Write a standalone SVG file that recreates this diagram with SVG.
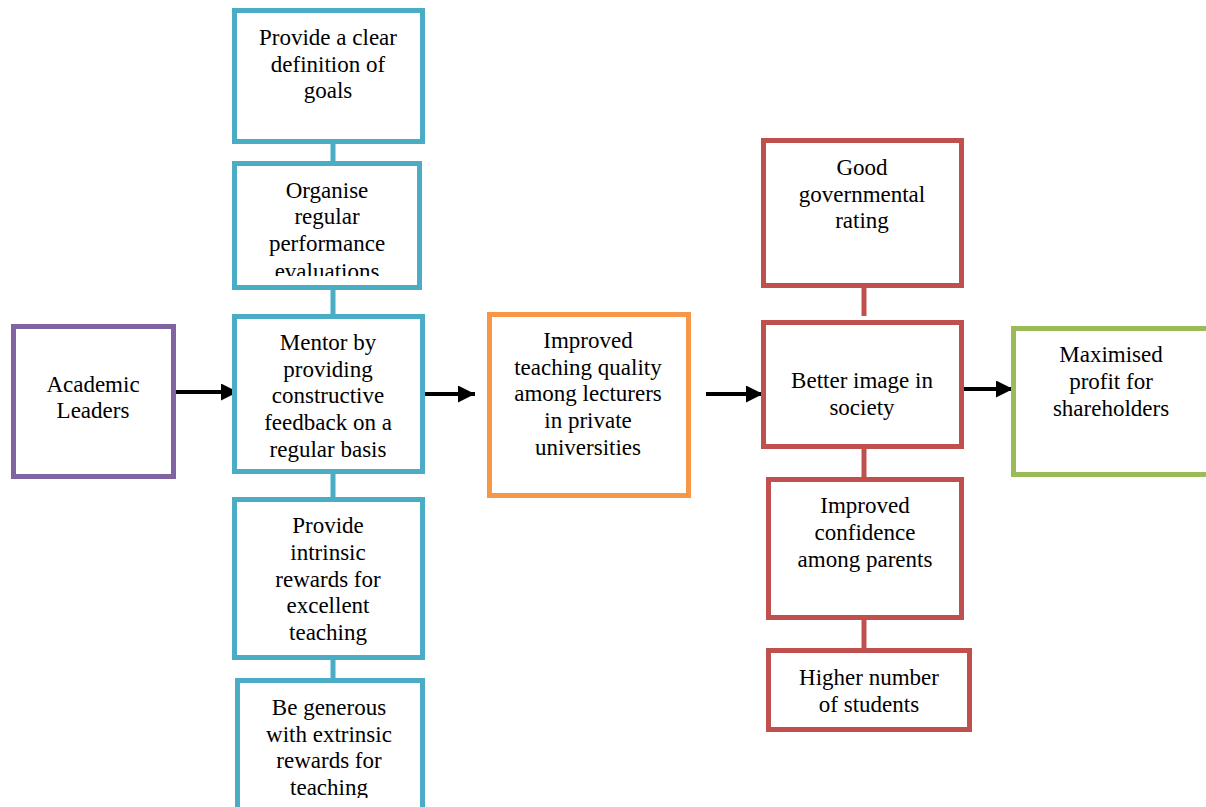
<svg xmlns="http://www.w3.org/2000/svg" width="1206" height="807" viewBox="0 0 1206 807">
<style>
.box{fill:#fff;stroke-width:5}
.pu{stroke:#8064A2}.bl{stroke:#4BACC6}.or{stroke:#F79646}.rd{stroke:#C0504D}.gr{stroke:#9BBB59}
text{font-family:"Liberation Serif","Times New Roman",serif;font-size:23px;fill:#000;text-anchor:middle}
.arrow{stroke:#000;stroke-width:4;fill:none;marker-end:url(#ah)}
.lk{stroke-width:5;fill:none}
</style>
<defs>
<marker id="ah" markerUnits="userSpaceOnUse" markerWidth="18" markerHeight="18" refX="17" refY="8.5" orient="auto">
<path d="M0,0 L17,8.5 L0,17 Z" fill="#000"/>
</marker>
<clipPath id="c2"><rect x="230" y="160" width="200" height="116"/></clipPath>
<clipPath id="c5"><rect x="230" y="676" width="200" height="122"/></clipPath>
</defs>
<rect width="1206" height="807" fill="#fff"/>
<g id="connectors">
<path class="lk bl" d="M333,144V161M333,290V314M333,474V497M333,660V678"/>
<path class="lk rd" d="M864,288V316M864,449V480M864,620V650"/>
<path class="arrow" d="M176,392H238"/>
<path class="arrow" d="M423,394H475"/>
<path class="arrow" d="M706,394H763"/>
<path class="arrow" d="M962,389H1013"/>
</g>
<g id="academic-leaders">
<rect class="box pu" x="13.5" y="326.5" width="160" height="150"/>
<text x="93" y="392">Academic</text>
<text x="93" y="418">Leaders</text>
</g>
<g id="clear-goals">
<rect class="box bl" x="234.5" y="10.5" width="188" height="131"/>
<text x="328" y="45">Provide a clear</text>
<text x="328" y="72">definition of</text>
<text x="328" y="98">goals</text>
</g>
<g id="performance-evaluations">
<rect class="box bl" x="234.5" y="163.5" width="185" height="124"/>
<g clip-path="url(#c2)">
<text x="327" y="198">Organise</text>
<text x="327" y="224">regular</text>
<text x="327" y="251">performance</text>
<text x="327" y="279">evaluations</text>
</g>
</g>
<g id="mentor">
<rect class="box bl" x="234.5" y="316.5" width="188" height="155"/>
<text x="328" y="350">Mentor by</text>
<text x="328" y="377">providing</text>
<text x="328" y="403">constructive</text>
<text x="328" y="430">feedback on a</text>
<text x="328" y="457">regular basis</text>
</g>
<g id="intrinsic-rewards">
<rect class="box bl" x="234.5" y="499.5" width="188" height="158"/>
<text x="328" y="533">Provide</text>
<text x="328" y="560">intrinsic</text>
<text x="328" y="587">rewards for</text>
<text x="328" y="613">excellent</text>
<text x="328" y="640">teaching</text>
</g>
<g id="extrinsic-rewards">
<rect class="box bl" x="237.5" y="680.5" width="185" height="140"/>
<g clip-path="url(#c5)">
<text x="329" y="715">Be generous</text>
<text x="329" y="742">with extrinsic</text>
<text x="329" y="768">rewards for</text>
<text x="329" y="795">teaching</text>
</g>
</g>
<g id="teaching-quality">
<rect class="box or" x="489.5" y="314.5" width="199" height="181"/>
<text x="588" y="348">Improved</text>
<text x="588" y="375">teaching quality</text>
<text x="588" y="401">among lecturers</text>
<text x="588" y="428">in private</text>
<text x="588" y="455">universities</text>
</g>
<g id="governmental-rating">
<rect class="box rd" x="763.5" y="140.5" width="198" height="145"/>
<text x="862" y="175">Good</text>
<text x="862" y="202">governmental</text>
<text x="862" y="228">rating</text>
</g>
<g id="better-image">
<rect class="box rd" x="763.5" y="322.5" width="198" height="124"/>
<text x="862" y="388">Better image in</text>
<text x="862" y="415">society</text>
</g>
<g id="parent-confidence">
<rect class="box rd" x="768.5" y="479.5" width="193" height="138"/>
<text x="865" y="513">Improved</text>
<text x="865" y="540">confidence</text>
<text x="865" y="567">among parents</text>
</g>
<g id="more-students">
<rect class="box rd" x="768.5" y="650.5" width="201" height="79"/>
<text x="869" y="685">Higher number</text>
<text x="869" y="712">of students</text>
</g>
<g id="maximised-profit">
<rect class="box gr" x="1013.5" y="328.5" width="250" height="146"/>
<text x="1111" y="362">Maximised</text>
<text x="1111" y="389">profit for</text>
<text x="1111" y="416">shareholders</text>
</g>
</svg>
